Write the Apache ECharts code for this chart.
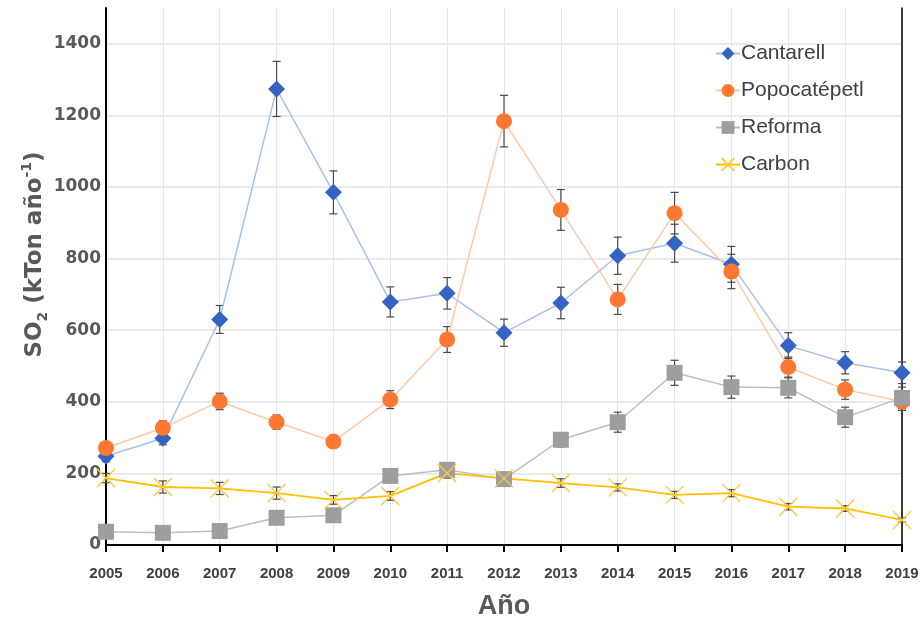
<!DOCTYPE html>
<html>
<head>
<meta charset="utf-8">
<script src="https://cdn.jsdelivr.net/npm/echarts@6/dist/echarts.min.js"></script>
<style>html,body{margin:0;padding:0;background:#fff}#c{width:924px;height:620px}</style>
</head>
<body>
<div id="c"></div>
<script>
const years = ['2005','2006','2007','2008','2009','2010','2011','2012','2013','2014','2015','2016','2017','2018','2019'];
const cantarell = [248, 298, 630, 1274, 985, 679, 703, 593, 676, 808, 843, 784, 557, 509, 481];
const cantarellErr = [15, 18, 39, 77, 60, 42, 44, 38, 44, 52, 53, 50, 36, 31, 30];
const popocatepetl = [271, 327, 401, 343, 289, 406, 574, 1184, 936, 686, 927, 764, 497, 434, 401];
const popocatepetlErr = [16, 20, 23, 20, 17, 25, 36, 72, 57, 42, 58, 48, 28, 27, 25];
const reforma = [37, 34, 39, 76, 83, 193, 210, 184, 294, 343, 481, 441, 439, 357, 411];
const reformaErr = [4, 4, 4, 8, 9, 12, 13, 12, 20, 28, 35, 31, 28, 28, 30];
const carbon = [187, 162, 158, 145, 126, 137, 201, 186, 173, 161, 140, 145, 107, 102, 70];
const carbonErr = [13, 17, 17, 17, 12, 12, 14, 12, 12, 10, 10, 10, 9, 8, 6];
const yTicks = [0, 200, 400, 600, 800, 1000, 1200, 1400];

const chart = echarts.init(document.getElementById('c'), null, {renderer: 'canvas'});

function errSeries(vals, errs, z) {
  return {
    type: 'custom',
    z: z,
    silent: true,
    data: vals.map((v, i) => [i, v, errs[i]]),
    encode: {x: 0, y: 1},
    renderItem: function (params, api) {
      const x = api.value(0), y = api.value(1), e = api.value(2);
      const t = api.coord([x, y + e]);
      const b = api.coord([x, y - e]);
      const w = 4;
      const st = {stroke: '#4a4a4a', lineWidth: 1.2};
      return {
        type: 'group',
        children: [
          {type: 'line', shape: {x1: t[0], y1: t[1], x2: b[0], y2: b[1]}, style: st},
          {type: 'line', shape: {x1: t[0] - w, y1: t[1], x2: t[0] + w, y2: t[1]}, style: st},
          {type: 'line', shape: {x1: b[0] - w, y1: b[1], x2: b[0] + w, y2: b[1]}, style: st}
        ]
      };
    }
  };
}

const gridColors = yTicks.map(() => '#E3E3E3').concat(['rgba(0,0,0,0)']);

const option = {
  backgroundColor: '#fff',
  animation: false,
  grid: {left: 106, right: 22, top: 8, bottom: 75, containLabel: false, outerBoundsMode: 'none'},
  legend: {
    orient: 'vertical',
    left: 710,
    top: 38,
    itemWidth: 24,
    itemHeight: 16,
    itemGap: 16,
    textStyle: {fontFamily: 'Liberation Sans', fontSize: 21, color: '#404040', lineHeight: 20, padding: [0, 0, 0, -4]},
    data: ['Cantarell', 'Popocatépetl', 'Reforma', 'Carbon']
  },
  xAxis: {
    type: 'category',
    data: years,
    boundaryGap: false,
    name: 'Año',
    nameLocation: 'middle',
    nameGap: 48,
    nameMoveOverlap: false,
    nameTextStyle: {fontFamily: 'Liberation Sans', fontWeight: 'bold', fontSize: 27, color: '#595959'},
    axisLine: {show: true, onZero: false, lineStyle: {color: '#000', width: 2}},
    axisTick: {show: true, length: 7, alignWithLabel: true, lineStyle: {color: '#000', width: 2}},
    axisLabel: {margin: 21, fontFamily: 'Liberation Sans', fontWeight: 'bold', fontSize: 15, color: '#404040'},
    splitLine: {show: true, lineStyle: {color: '#E6E6E6', width: 1}}
  },
  yAxis: [{
    type: 'value',
    min: 0,
    max: 1500,
    interval: 200,
    name: '{b|SO}{sub|2}{b| (kTon año}{sup|-1}{b|)}',
    nameLocation: 'middle',
    nameGap: 56,
    nameMoveOverlap: false,
    nameRotate: 90,
    nameTextStyle: {
      padding: [0, 0, 0, 44],
      rich: {
        b: {fontFamily: 'DejaVu Sans', fontWeight: 'bold', fontSize: 23, color: '#595959', lineHeight: 30, verticalAlign: 'middle'},
        sub: {fontFamily: 'DejaVu Sans', fontWeight: 'bold', fontSize: 14, color: '#595959', lineHeight: 14, verticalAlign: 'bottom'},
        sup: {fontFamily: 'DejaVu Sans', fontWeight: 'bold', fontSize: 14, color: '#595959', lineHeight: 14, verticalAlign: 'top'}
      }
    },
    axisLine: {show: true, lineStyle: {color: '#000', width: 2}},
    axisTick: {show: false},
    axisLabel: {
      margin: 5,
      fontFamily: 'DejaVu Sans', fontWeight: 'bold', fontSize: 17, color: '#595959',
      formatter: function (v) { return yTicks.indexOf(v) >= 0 ? String(v) : ''; }
    },
    splitLine: {show: true, lineStyle: {color: gridColors, width: 1.5}}
  }, {
    type: 'value',
    position: 'right',
    min: 0,
    max: 1500,
    interval: 200,
    axisLine: {show: true, lineStyle: {color: '#000', width: 1.5}},
    axisTick: {show: false},
    axisLabel: {show: false},
    splitLine: {show: false}
  }],
  series: [
    errSeries(cantarell, cantarellErr, 1),
    errSeries(popocatepetl, popocatepetlErr, 1),
    errSeries(reforma, reformaErr, 1),
    errSeries(carbon, carbonErr, 1),
    {
      name: 'Cantarell', type: 'line', z: 3, data: cantarell,
      symbol: 'diamond', symbolSize: 17,
      itemStyle: {color: '#3563C1'},
      lineStyle: {color: '#A9C1EA', width: 1.5}
    },
    {
      name: 'Popocatépetl', type: 'line', z: 3, data: popocatepetl,
      symbol: 'circle', symbolSize: 16,
      itemStyle: {color: '#FF7730'},
      lineStyle: {color: '#FFC9A8', width: 1.5}
    },
    {
      name: 'Reforma', type: 'line', z: 3, data: reforma,
      symbol: 'rect', symbolSize: 16,
      itemStyle: {color: '#9E9E9E'},
      lineStyle: {color: '#BDBDBD', width: 1.5}
    },
    {
      name: 'Carbon', type: 'line', z: 3, data: carbon,
      symbol: 'path://M0,0L10,10M10,0L0,10', symbolSize: 18,
      itemStyle: {color: '#FFC836', borderColor: '#FFC836', borderWidth: 1.3},
      lineStyle: {color: '#FFC000', width: 1.8}
    }
  ]
};
chart.setOption(option);
</script>
</body>
</html>
